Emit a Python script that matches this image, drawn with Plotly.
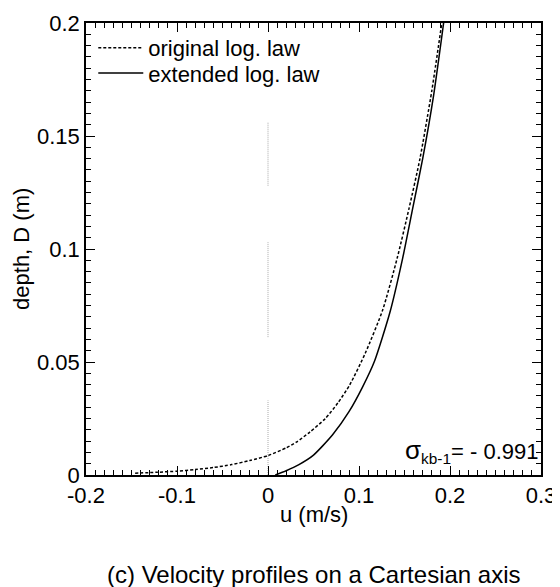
import plotly.graph_objects as go

# Original log law (dashed) : velocity u (m/s) vs depth D (m)
orig_u = [-0.146, -0.122, -0.100, -0.080, -0.060, -0.040, -0.020, 0.0, 0.020, 0.031, 0.046,
          0.063, 0.077, 0.090, 0.107, 0.126, 0.142, 0.155, 0.167, 0.180, 0.191]
orig_D = [0.0008, 0.0012, 0.0017, 0.0024, 0.0033, 0.0046, 0.0064, 0.0086, 0.012, 0.0145, 0.019,
          0.025, 0.032, 0.040, 0.054, 0.073, 0.096, 0.118, 0.140, 0.170, 0.200]

# Extended log law (solid)
ext_u = [0.008, 0.020, 0.034, 0.050, 0.071, 0.089, 0.104, 0.117, 0.134, 0.148,
         0.159, 0.170, 0.182, 0.193]
ext_D = [0.0, 0.0019, 0.0046, 0.0088, 0.0178, 0.028, 0.039, 0.0503, 0.072, 0.096,
         0.118, 0.140, 0.168, 0.200]

# Dotted reference line at u = 0 (drawn in segments)
ref_u = [0, 0, None, 0, 0, None, 0, 0]
ref_D = [0.0, 0.033, None, 0.061, 0.103, None, 0.128, 0.156]

x_ticks = [-0.2, -0.1, 0, 0.1, 0.2, 0.3]
x_tick_text = ["-0.2", "-0.1", "0", "0.1", "0.2", "0.3"]
y_ticks = [0, 0.05, 0.1, 0.15, 0.2]
y_tick_text = ["0", "0.05", "0.1", "0.15", "0.2"]

FONT = "Liberation Sans, Arial, sans-serif"
FS = 22

fig = go.Figure()
fig.add_trace(go.Scatter(x=ref_u, y=ref_D, mode="lines", showlegend=False,
                         xaxis="x2", yaxis="y2",
                         line=dict(color="#aaaaaa", width=1, dash="1px,1px"),
                         connectgaps=False, hoverinfo="skip"))
fig.add_trace(go.Scatter(x=orig_u, y=orig_D, mode="lines", name="original log. law",
                         legend="legend",
                         line=dict(color="black", width=1.5, dash="3px,2px",
                                   shape="spline", smoothing=0.6)))
fig.add_trace(go.Scatter(x=ext_u, y=ext_D, mode="lines", name="extended log. law",
                         legend="legend2",
                         line=dict(color="black", width=1.5, shape="spline", smoothing=0.6)))

major = dict(
    showline=True, linecolor="black", linewidth=1.5, mirror="allticks",
    ticks="inside", ticklen=9, tickwidth=1.2, tickcolor="black",
    showgrid=False, zeroline=False, automargin=False,
    tickfont=dict(family=FONT, size=FS, color="black"),
)
minor = dict(
    showline=True, linecolor="black", linewidth=1.5, mirror="allticks",
    ticks="inside", ticklen=5, tickwidth=1, tickcolor="black",
    showgrid=False, zeroline=False, showticklabels=False, automargin=False,
)

fig.update_layout(
    xaxis=dict(range=[-0.2, 0.3], tickmode="array", tickvals=x_ticks, ticktext=x_tick_text,
               **major),
    yaxis=dict(range=[0, 0.2], tickmode="array", tickvals=y_ticks, ticktext=y_tick_text,
               **major),
    xaxis2=dict(range=[-0.2, 0.3], overlaying="x", anchor="y2", side="bottom",
                tickmode="linear", tick0=-0.2, dtick=0.01, **minor),
    yaxis2=dict(range=[0, 0.2], overlaying="y", anchor="x2", side="left",
                tickmode="linear", tick0=0, dtick=0.005, **minor),
)

# axis titles and caption
fig.add_annotation(x=0.5, y=-0.088, xref="paper", yref="paper", yanchor="middle",
                   text="u (m/s)", showarrow=False,
                   font=dict(family=FONT, size=FS, color="black"))
fig.add_annotation(x=-0.143, y=0.5, xref="paper", yref="paper", xanchor="center",
                   yanchor="middle", textangle=-90,
                   text="depth, D (m)", showarrow=False,
                   font=dict(family=FONT, size=FS, color="black"))
fig.add_annotation(x=0.997, y=0.014, xref="paper", yref="paper", xanchor="right", yanchor="bottom",
                   text="<span style='font-size:26px'>σ</span><sub>kb-1</sub>= - 0.991",
                   showarrow=False,
                   font=dict(family=FONT, size=FS, color="black"))
fig.add_annotation(x=0.5, xref="paper", y=-0.221, yref="paper", yanchor="middle",
                   text="(c) Velocity profiles on a Cartesian axis", showarrow=False,
                   font=dict(family=FONT, size=24, color="black"))

leg = dict(x=0.016, xanchor="left", yanchor="middle", bgcolor="rgba(0,0,0,0)",
           font=dict(family=FONT, size=FS, color="black"), itemwidth=45,
           tracegroupgap=0, borderwidth=0)

fig.update_layout(
    width=560, height=587,
    margin=dict(l=78, r=27, t=15, b=120, autoexpand=False),
    paper_bgcolor="white", plot_bgcolor="white",
    font=dict(family=FONT, size=FS, color="black"),
    legend=dict(y=0.945, **leg),
    legend2=dict(y=0.889, **leg),
    showlegend=True,
)

fig.write_html("out.html")
